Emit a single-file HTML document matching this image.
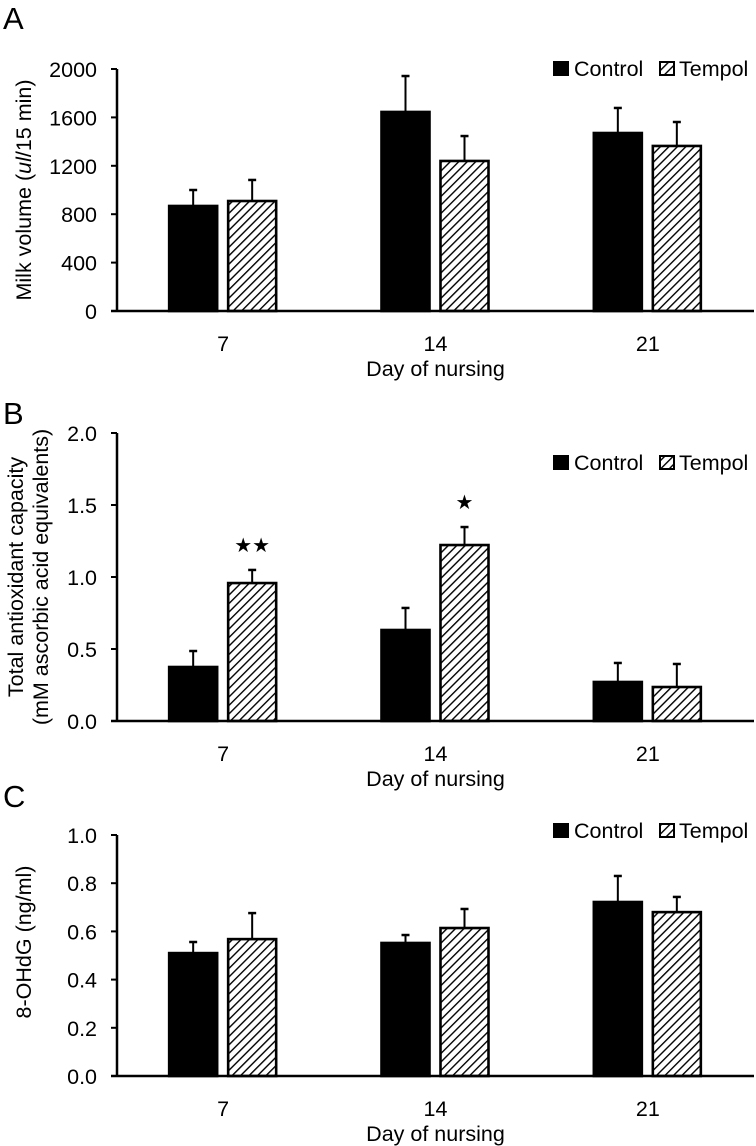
<!DOCTYPE html>
<html><head><meta charset="utf-8"><style>
body{margin:0;background:#fff;}
svg{display:block;font-family:"Liberation Sans",Arial,sans-serif;}
</style></head><body>
<svg id="fig" width="756" height="1146" viewBox="0 0 756 1146">
<defs>
<pattern id="hatch" patternUnits="userSpaceOnUse" width="6" height="6" patternTransform="rotate(45)">
<rect width="6" height="6" fill="#fff"/><line x1="0" y1="0" x2="0" y2="6" stroke="#000" stroke-width="2.8"/>
</pattern>
</defs>
</svg>
<script>
const categories = ["7","14","21"];
const seriesNames = ["Control","Tempol"];
// Panel A
const aControl = [868,1645,1471];
const aControlErr = [132,297,207];
const aTempol = [909,1240,1364];
const aTempolErr = [174,206,198];
const aTicks = [0,400,800,1200,1600,2000];
const aTickLabels = ["0","400","800","1200","1600","2000"];
// Panel B
const bControl = [0.375,0.632,0.271];
const bControlErr = [0.111,0.153,0.132];
const bTempol = [0.958,1.222,0.236];
const bTempolErr = [0.091,0.125,0.160];
const bTicks = [0,0.5,1.0,1.5,2.0];
const bTickLabels = ["0.0","0.5","1.0","1.5","2.0"];
const bStarsT = ["★★","★",""];
// Panel C
const cControl = [0.51,0.552,0.722];
const cControlErr = [0.046,0.033,0.108];
const cTempol = [0.568,0.614,0.68];
const cTempolErr = [0.108,0.079,0.063];
const cTicks = [0,0.2,0.4,0.6,0.8,1.0];
const cTickLabels = ["0.0","0.2","0.4","0.6","0.8","1.0"];

const NS="http://www.w3.org/2000/svg";
const svg=document.getElementById('fig');
function mk(tag,attrs,parent){const e=document.createElementNS(NS,tag);for(const k in attrs)e.setAttribute(k,attrs[k]);(parent||svg).appendChild(e);return e;}
function txt(s,attrs,parent){const e=mk('text',attrs,parent);e.textContent=s;return e;}
const FS=21.5;

function panel(p){
  const g=mk('g',{});
  
  
  const x0=117,x1=754,yTop=p.yTop,yBase=p.yBase,max=p.ticks[p.ticks.length-1];
  const yS=v=>yBase-(v/max)*(yBase-yTop);
  const step=(x1-x0)/categories.length;
  const xC=i=>x0+step*(i+0.5);
  const pl=txt(p.id,{x:3,y:p.labelY,'font-size':31},g);
  
  
  p.ticks.forEach((t,i)=>{
    const tk=mk('line',{x1:111,x2:x0,y1:yS(t),y2:yS(t),stroke:'#000','stroke-width':2},g);
    
    
    const tl=txt(p.tickLabels[i],{x:97,y:yS(t)+8,'font-size':FS,'text-anchor':'end'},g);
    
    
  });
  const series=[[p.c,p.ce,'#000',-54],[p.t,p.te,'url(#hatch)',5]];
  series.forEach((s,si)=>{
    s[0].forEach((v,i)=>{
      const bx=xC(i)+s[3], w=48;
      const ex=bx+w/2, ey=yS(v+s[1][i]);
      const el=mk('line',{x1:ex,x2:ex,y1:yS(v),y2:ey,stroke:'#000','stroke-width':2},g);
      
      
      const cap=mk('line',{x1:ex-4,x2:ex+4,y1:ey,y2:ey,stroke:'#000','stroke-width':2.5},g);
      
      
      const r=mk('rect',{x:bx,y:yS(v),width:w,height:yBase-yS(v),fill:s[2],stroke:'#000','stroke-width':2.6},g);
      
      
    });
  });
  if(p.stars){p.stars.forEach((s,i)=>{if(!s)return;
    const v=p.t[i]+p.te[i];
    const st=txt(s,{x:xC(i)+29,y:yS(v)-18,'font-size':20,'text-anchor':'middle'},g);
    
    
  });}
  const ya=mk('line',{x1:x0,x2:x0,y1:yTop,y2:yBase+1,stroke:'#000','stroke-width':2.5},g);
  
  
  const xa=mk('line',{x1:111,x2:x1,y1:yBase,y2:yBase,stroke:'#000','stroke-width':2.5},g);
  
  
  categories.forEach((c,i)=>{
    const xl=txt(c,{x:xC(i),y:yBase+40,'font-size':FS,'text-anchor':'middle'},g);
    
    
  });
  const xt=txt('Day of nursing',{x:xC(1),y:yBase+65,'font-size':FS,'text-anchor':'middle'},g);
  
  
  p.title.forEach((line,li)=>{
    const yt=mk('text',{x:0,y:0,'font-size':FS,'text-anchor':'middle',transform:`translate(${p.titleX[li]},${p.titleY}) rotate(-90)`},g);
    yt.innerHTML=line;
    
    
  });
  const ly=p.legendY;
  const lg=mk('g',{},g);
  
  
  const s1=mk('rect',{x:553,y:ly-7,width:16,height:15,fill:'#000'},lg);
  
  
  const t1=txt('Control',{x:574,y:ly+8,'font-size':FS},lg);
  
  
  const s2=mk('rect',{x:660,y:ly-6,width:14,height:13,fill:'url(#hatch)',stroke:'#000','stroke-width':2},lg);
  
  
  const t2=txt('Tempol',{x:679,y:ly+8,'font-size':FS},lg);
  
  
}
panel({id:'A',labelY:29,yTop:69,yBase:311,ticks:aTicks,tickLabels:aTickLabels,c:aControl,ce:aControlErr,t:aTempol,te:aTempolErr,
  title:['Milk volume (<tspan font-style="italic">ul</tspan>/15 min)'],titleX:[31],titleY:190,legendY:68});
panel({id:'B',labelY:424,yTop:433,yBase:721,ticks:bTicks,tickLabels:bTickLabels,c:bControl,ce:bControlErr,t:bTempol,te:bTempolErr,stars:bStarsT,
  title:['Total antioxidant capacity','(mM ascorbic acid equivalents)'],titleX:[23,48],titleY:577,legendY:462});
panel({id:'C',labelY:807,yTop:835,yBase:1076,ticks:cTicks,tickLabels:cTickLabels,c:cControl,ce:cControlErr,t:cTempol,te:cTempolErr,
  title:['8-OHdG (ng/ml)'],titleX:[31],titleY:942,legendY:830});
</script>
</body></html>
